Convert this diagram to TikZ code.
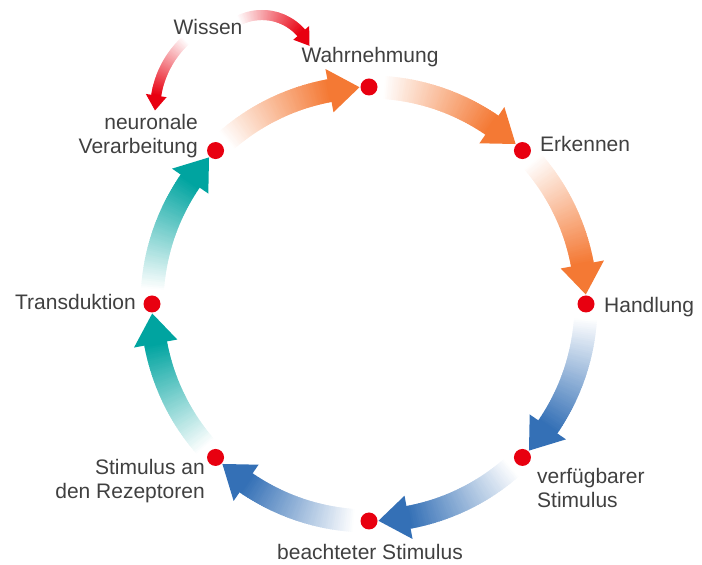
\documentclass[tikz,border=0pt]{standalone}
\usepackage{fontspec}
\setmainfont{Liberation Sans}
\usetikzlibrary{calc}
\definecolor{korange}{RGB}{244,121,52}
\definecolor{kblue}{RGB}{52,112,182}
\definecolor{kteal}{RGB}{0,164,160}
\definecolor{kred}{RGB}{232,0,16}
\definecolor{ktext}{RGB}{64,64,64}
% #1 centre, #2 radius, #3 start angle, #4 head-base angle, #5 tip angle,
% #6 shaft width, #7 head width, #8 colour
\newcommand\gradarrow[8]{%
  \foreach \i in {0,...,59}{%
    \pgfmathsetmacro\aa{#3+(#4-#3)*\i/60}%
    \pgfmathsetmacro\ab{#3+(#4-#3)*(\i+1.6)/60}%
    \pgfmathtruncatemacro\pc{100*(\i+1)/60}%
    \draw[line width=#6, color=#8!\pc!white] ($(#1)+(\aa:#2)$) arc[start angle=\aa, end angle=\ab, radius=#2];%
  }%
  \fill[#8] ($(#1)+(#4:#2+#7/2)$) -- ($(#1)+(#5:#2)$) -- ($(#1)+(#4:#2-#7/2)$) -- cycle;%
}
\tikzset{
  dot/.style={circle, fill=kred, inner sep=0pt, minimum size=17pt},
  lbl/.style={text=ktext, font=\fontsize{21}{24}\selectfont, inner sep=0pt}
}
\begin{document}
\begin{tikzpicture}[x=1pt,y=1pt]
\useasboundingbox (0,0) rectangle (702,565);
\coordinate (C) at (369,261);
% arrows of the cycle
\gradarrow{C}{217}{131}{100.5}{92.5}{23pt}{44}{korange}
\gradarrow{C}{217}{86}{55.5}{47.5}{23pt}{44}{korange}
\gradarrow{C}{217}{41}{10.5}{2.5}{23pt}{44}{korange}
\gradarrow{C}{217}{-4}{-34.5}{-42.5}{23pt}{44}{kblue}
\gradarrow{C}{217}{-49}{-79.5}{-87.5}{23pt}{44}{kblue}
\gradarrow{C}{217}{-94}{-124.5}{-132.5}{23pt}{44}{kblue}
\gradarrow{C}{217}{-139}{-169.5}{-177.5}{23pt}{44}{kteal}
\gradarrow{C}{217}{176}{145.5}{137.5}{23pt}{44}{kteal}
% Wissen arrows
\gradarrow{262,498}{52}{116}{41}{24}{10pt}{21}{kred}
\gradarrow{250.5,454.5}{95.5}{133}{171}{180}{10pt}{21}{kred}
% dots
\node[dot] (wahr) at ($(C)+(90:217)$) {};
\node[dot] (erk) at ($(C)+(45:217)$) {};
\node[dot] (hand) at ($(C)+(0:217)$) {};
\node[dot] (verf) at ($(C)+(-45:217)$) {};
\node[dot] (beach) at ($(C)+(-90:217)$) {};
\node[dot] (stim) at ($(C)+(-135:217)$) {};
\node[dot] (trans) at ($(C)+(180:217)$) {};
\node[dot] (neur) at ($(C)+(135:217)$) {};
% labels
\node[lbl] (wissenL) at (208,538) {Wissen};
\node[lbl] (wahrL) at (370,508) {Wahrnehmung};
\node[lbl, anchor=east, align=right] (neurL) at (198,429) {neuronale\\Verarbeitung};
\node[lbl, anchor=west] (erkL) at (540,421) {Erkennen};
\node[lbl, anchor=west] (handL) at (604,258) {Handlung};
\node[lbl, anchor=west, align=left] (verfL) at (537,77) {verfügbarer\\Stimulus};
\node[lbl] (beachL) at (370,13) {beachteter Stimulus};
\node[lbl, anchor=east, align=right] (stimL) at (205,84) {Stimulus an\\den Rezeptoren};
\node[lbl, anchor=east] (transL) at (136,263) {Transduktion};
\end{tikzpicture}
\end{document}
